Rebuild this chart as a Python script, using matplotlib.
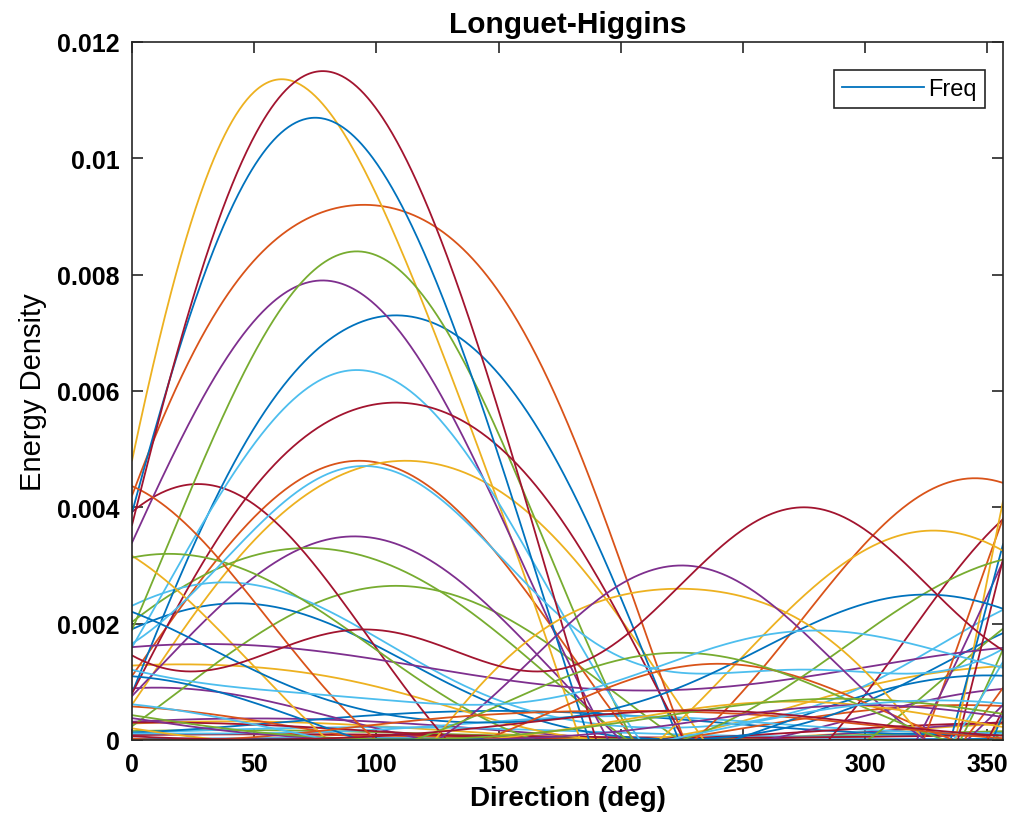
import numpy as np
import matplotlib
matplotlib.use("Agg")
import matplotlib.pyplot as plt

plt.rcParams['font.family'] = ['Liberation Sans', 'DejaVu Sans']

# Longuet-Higgins directional spreading, one line per frequency band:
# D(theta) = mean + amp1*cos(theta - dir1) + amp2*cos(2*(theta - dir2)), clipped at 0
mean_ = [0.00002, 0.00006, 0.00016, 0.00019, 0.0001, 0.00014, 0.00007,
         0.0003, 0.0002, 0.00073, 0.00025, 0.00081, 0.00023, 0.00015,
         0.00104, 0.00134, 0.00168, 0.0009, 0.00133, 0.00128, 0.00095,
         0.00215, 0.00391, 0.00175, 0.00248, 0.00243, 0.00196, 0.00182,
         0.0023, 0.00138, 0.00101, 0.00125, 0.00145, 0.00238, 0.00247,
         0.00125, 0.00023, 0.00012, 0.00071, 0.0004, 0.00115, 0.00215,
         0.00023, 0.00028, 0.00024, 0.00025, 0.00033, 0.00018, 0.00023]
amp1 = [0.00001, 0.00004, 0.00016, 0.00019, 0.00007, 0.00008, 0.00003,
        0.0002, 0.0004, 0.00065, 0.0006, 0.00183, 0.00015, 0.00015,
        0.00117, 0.0034, 0.0034, 0.0025, 0.00205, 0.00125, 0.00311,
        0.00565, 0.00613, 0.00957, 0.00523, 0.00563, 0.00418, 0.0044,
        0.00836, 0.00282, 0.00249, 0.0004, 0.0017, 0.00175, 0.00899,
        0.0011, 0.00095, 0.00289, 0.00188, 0.001, 0.0006, 0.00105,
        0.00085, 0.00025, 0.00038, 0.0003, 0.00035, 0.0005, 0.00025]
dir1 = [90, 30, 40, 50, 40, 100, 60,
        150, 340, 20, 10, 108, 200, 10,
        43, 93, 112, 91, 72, 38, 27,
        108, 95, 76.8, 78, 92, 92, 108,
        79.7, 345, 328, 30, 15, 95, 82.7,
        325, 240, 224, 225, 224, 290, 275,
        350, 200, 270, 300, 290, 330, 230]
amp2 = [0, 0, 0, -0.00001, 0, 0, 0,
        0, 0, -0.00008, 0.00005, 0.00001, 0.00003, 0,
        0.00014, 0.00006, -0.00028, 0.0001, -0.00008, 0.00018, 0.00034,
        -0.0005, -0.00084, 0.00134, 0.00019, 0.00034, 0.00022, -0.00042,
        0.00035, 0.0003, 0.0001, 0, 0.00005, 0.00058, 0.00037,
        0.00015, 0.00013, -0.00041, 0.00041, 0.0001, 0.00015, 0.0008,
        0.00003, -0.00003, 0.00004, 0.00005, 0.00003, 0, 0.00003]
dir2 = [90, 30, 40, 50, 40, 100, 60,
        150, 340, 20, 10, 108, 200, 10,
        43, 93, 112, 91, 72, 38, 27,
        108, 95, 24.7, 78, 92, 92, 108,
        35.4, 345, 328, 30, 15, 95, 38.4,
        325, 240, 224, 225, 224, 270, 95,
        350, 200, 270, 300, 290, 330, 230]

xticks = [0, 50, 100, 150, 200, 250, 300, 350]
yticks = [0, 0.002, 0.004, 0.006, 0.008, 0.01, 0.012]
ytick_labels = ['0', '0.002', '0.004', '0.006', '0.008', '0.01', '0.012']

matlab_colors = ['#0072BD', '#D95319', '#EDB120', '#7E2F8E',
                 '#77AC30', '#4DBEEE', '#A2142F']

theta = np.linspace(0, 356.5, 714)
rad = np.deg2rad(theta)

fig = plt.figure(figsize=(10.11, 8.28), dpi=100)
ax = fig.add_axes([0.1306, 0.1051, 0.8615, 0.8430])

for i in range(len(mean_)):
    d = (mean_[i] + amp1[i] * np.cos(rad - np.deg2rad(dir1[i]))
         + amp2[i] * np.cos(2 * (rad - np.deg2rad(dir2[i]))))
    d = np.clip(d, 0, None)
    ax.plot(theta, d, color=matlab_colors[i % 7], lw=1.3,
            label='Freq' if i == 0 else None)

ax.set_xlim(0, 356.5)
ax.set_ylim(0, 0.012)
ax.set_xticks(xticks)
ax.set_xticklabels([str(t) for t in xticks], fontweight='bold')
ax.set_yticks(yticks)
ax.set_yticklabels(ytick_labels, fontweight='bold')
ax.tick_params(direction='in', length=8, width=1.2, top=True, right=True,
               labelsize=18, pad=9, colors='#262626', labelcolor='black')
for s in ax.spines.values():
    s.set_color('#262626')
    s.set_linewidth(1.2)

ax.set_title('Longuet-Higgins', fontsize=21.5, fontweight='bold', pad=7)
ax.set_xlabel('Direction (deg)', fontsize=20, fontweight='bold', labelpad=6)
ax.set_ylabel('Energy Density', fontsize=21, labelpad=7)

leg = ax.legend(loc='upper right', bbox_to_anchor=(0.979, 0.960),
                borderaxespad=0, handlelength=3.5, handletextpad=0.15,
                borderpad=0.35, fontsize=17,
                fancybox=False, edgecolor='#262626', framealpha=1)
leg.get_frame().set_linewidth(1.2)

fig.savefig('out.png', dpi=100)
